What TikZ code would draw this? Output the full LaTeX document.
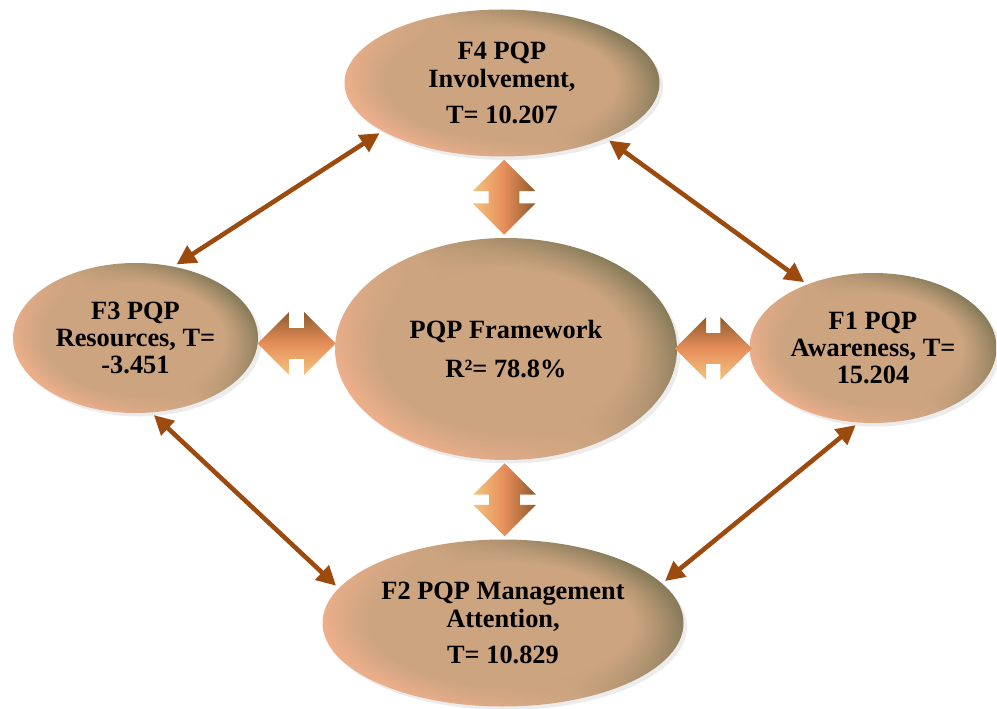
\documentclass[tikz,border=0pt]{standalone}
\usepackage{fontspec}
\setmainfont{Liberation Serif}
\usetikzlibrary{arrows.meta,shapes.geometric,shapes.arrows,shadows,fadings,calc}

\definecolor{linkbrown}{HTML}{9C4A0E}
\definecolor{ovaltan}{HTML}{CCA480}
\definecolor{ovaldark}{HTML}{857A58}
\definecolor{ovallight}{HTML}{F0B08C}
\definecolor{arrowgold}{HTML}{F4C47E}
\definecolor{arroworange}{HTML}{E68E5A}
\definecolor{arrowdark}{HTML}{8E5A2C}

% soft glow in the middle of each oval
\pgfdeclareradialshading{ovalglowshade}{\pgfpointorigin}{color(0bp)=(white); color(18bp)=(white); color(25bp)=(black); color(50bp)=(black)}
\pgfdeclarefading{ovalglow}{\pgfuseshading{ovalglowshade}}

\begin{document}
\begin{tikzpicture}[>={Triangle[length=11pt,width=11pt]},
    factor node/.style={ellipse,inner sep=0pt,align=center,
      font=\fontsize{15}{15.6}\selectfont\bfseries,
      shading=axis,top color=ovaldark,bottom color=ovallight,middle color=ovaltan,shading angle=-45,
      drop shadow={opacity=0.15,shadow xshift=2pt,shadow yshift=-2pt},
      path picture={\fill[ovaltan,path fading=ovalglow] (path picture bounding box.south west) rectangle (path picture bounding box.north east);}},
    block arrow/.style={double arrow,double arrow head extend=0.32cm,minimum width=1.24cm,inner sep=0.3cm,
      shading=axis,top color=arrowdark,bottom color=arrowgold,middle color=arroworange},
    link/.style={<->,draw=linkbrown,line width=2.6pt,shorten <=2pt,shorten >=2pt}]

  \useasboundingbox (0,0) rectangle (19.94,-14.18);

  \node[factor node,minimum width=6.84cm,minimum height=4.44cm] (0) at (10.12,-6.98) {PQP Framework\\[7pt]R²= 78.8\%};
  \node[factor node,minimum width=4.94cm,minimum height=3.00cm] (1) at (17.46,-6.96) {F1 PQP\\Awareness, T=\\15.204};
  \node[factor node,minimum width=7.22cm,minimum height=3.34cm] (2) at (10.06,-12.46) {F2 PQP Management\\Attention,\\[5pt]T= 10.829};
  \node[factor node,minimum width=4.90cm,minimum height=3.00cm] (3) at (2.71,-6.76) {F3 PQP\\Resources, T=\\-3.451};
  \node[factor node,minimum width=6.30cm,minimum height=2.94cm] (4) at (10.04,-1.66) {F4 PQP\\Involvement,\\[5pt]T= 10.207};

  % fat arrows to the framework
  \node[block arrow,minimum height=1.5cm,rotate=90,shading angle=-90] (a4) at ($(4.south)!0.5!(0.north)$) {};
  \node[block arrow,minimum height=1.46cm,rotate=90,shading angle=-90] (a2) at ($(0.south)!0.5!(2.north)$) {};
  \node[block arrow,minimum height=1.56cm] (a3) at ($(3.east)!0.5!(0.west)$) {};
  \node[block arrow,minimum height=1.54cm] (a1) at ($(0.east)!0.5!(1.west)$) {};

  \draw[link] (3.62) -- (4.202);
  \draw[link] (4.332) -- (1.136);
  \draw[link] (3.282) -- (2.168);
  \draw[link] (1.259) -- (2.14);
\end{tikzpicture}
\end{document}
